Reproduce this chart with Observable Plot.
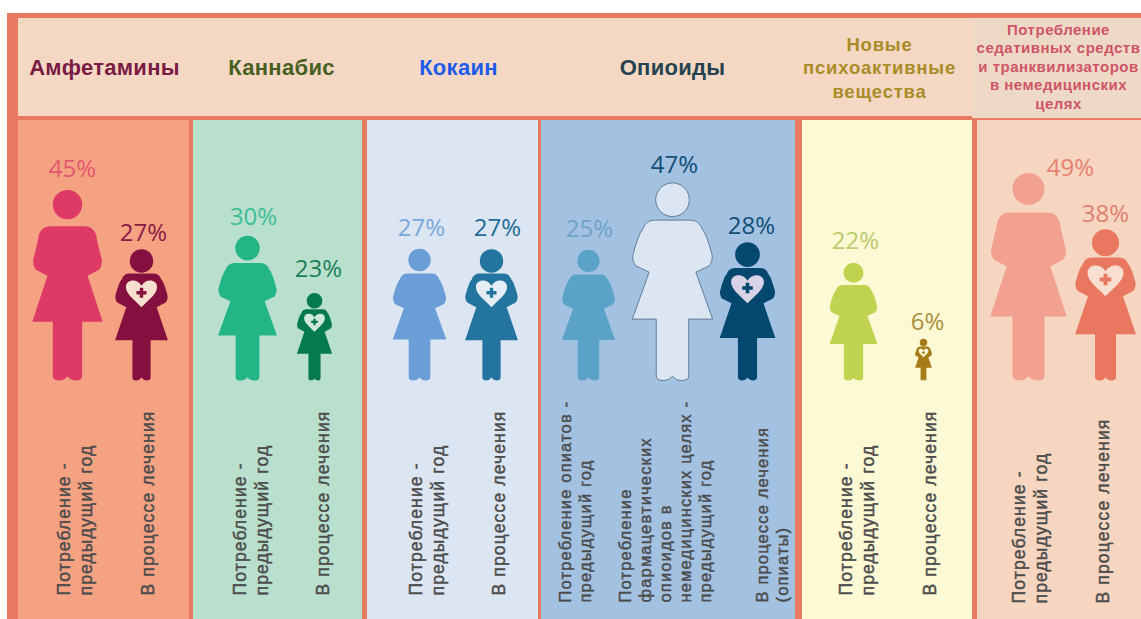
<!DOCTYPE html>
<html lang="ru">
<head>
<meta charset="utf-8">
<style>
html,body{margin:0;padding:0;background:#fff;overflow:hidden}
svg{display:block}
svg text[transform*="rotate"]{letter-spacing:1.15px}
svg g[font-size="22"] text{letter-spacing:.3px}
svg g[font-size="18.5"] text{letter-spacing:.8px}
svg g[font-size="15"] text{letter-spacing:.5px}
</style>
<script src="https://cdn.jsdelivr.net/npm/d3@7"></script>
<script src="https://cdn.jsdelivr.net/npm/@observablehq/plot@0.6"></script>
</head>
<body>
<div id="chart"></div>
<script>
// ---------- data ----------
const substances = ["Амфетамины","Каннабис","Кокаин","Опиоиды","Новые\nпсихоактивные\nвещества","Потребление\nседативных средств\nи транквилизаторов\nв немедицинских\nцелях"];
const figureSubstance = [0,0,1,1,2,2,3,3,3,4,4,5,5];
const percentValues = [45,27,30,23,27,27,25,47,28,22,6,49,38];
const inTreatment = [false,true,false,true,false,true,false,false,true,false,true,false,true];
const useLabel = "Потребление -\nпредыдущий год";
const treatLabel = "В процессе лечения";
const axisLabels = [useLabel,treatLabel,useLabel,treatLabel,useLabel,treatLabel,
  "Потребление опиатов -\nпредыдущий год",
  "Потребление\nфармацевтических\nопиоидов в\nнемедицинских целях -\nпредыдущий год",
  "В процессе лечения\n(опиаты)",
  useLabel,treatLabel,useLabel,treatLabel];

// ---------- layout and styling ----------
const W = 1141, H = 619;
const frameColor = "#e97a62";
const panelX = [[18,189],[193,362],[367,538],[541,795],[802,972],[977,1141]];
const panelFill = ["#f5a283","#b9e0cd","#dce6f3","#a3c1e0","#fdf9d5","#f6d6c1"];
const headX = [104,281,458,672,879,1058];
const headY = [66,66,66,66,66,65.5];
const headColor = ["#7a1a45","#46601f","#1f5bea","#24424f","#a98c28","#cf5467"];
const headSize = [22,22,22,22,18.5,15];
const headLine = [1.2,1.2,1.2,1.2,1.27,1.23];
const figX = [67,141,247,314,419,491,588,672,747,853,923,1028,1105];
const figH = [191,132,145,88,132,132,131,198,139,118,42,208,152];
const slimFigure = [true,false,false,false,false,false,false,false,false,false,false,true,false];
const bodyFill = ["#dd3a66","#85103f","#23b585","#067a4f","#6b9dd6","#23749f","#5ba2c9","#dce6f3","#04476f","#bfd350","#a67c18","#f2a090","#ea7760"];
const heartFill = ["","#f8dfce","","#cfe8d8","","#e5eef6","","","#d9d3e8","","#fff7d8","","#f9dfd0"];
const pctX = [72,143,253,318,421,497,589,674,751,855,927,1070,1105];
const pctY = [169,233,217,269,228,228,229,165,226,241,322,168,214];
const pctFill = ["#e2566f","#8a1b45","#3dbd95","#1c7f5b","#7aa7dc","#1e6b96","#6fa3c8","#114e77","#114e77","#bccb6c","#a98f3a","#e8806f","#e08070"];
const labelX = [73,146,249,321,425,497,574,664,771,855,928,1028,1101];
const labelY = [595,595,595,595,595,595,602,602,602,595,595,603,603];
const labelSize = [17.5,17.5,17.5,17.5,17.5,17.5,16.5,16.5,16.5,17.5,17.5,17.5,17.5];
const labelLine = [1.26,1.26,1.26,1.26,1.26,1.26,1.21,1.21,1.21,1.26,1.26,1.26,1.26];

// ---------- pictograms: unit shapes scaled by the r channel ----------
function pt(ctx, h){ return {
  M:(u,v)=>ctx.moveTo(u*h,-v*h), L:(u,v)=>ctx.lineTo(u*h,-v*h),
  Q:(a,b,u,v)=>ctx.quadraticCurveTo(a*h,-b*h,u*h,-v*h),
  C:(a,b,c,d,u,v)=>ctx.bezierCurveTo(a*h,-b*h,c*h,-d*h,u*h,-v*h)
};}
function person(o){ return { draw(ctx,size){
  const h = Math.sqrt(size/Math.PI), p = pt(ctx,h);
  const {leg,skirt,hem,waist,waistV,elbow,elbowV,top,headR,headV} = o;
  const cx = elbow-0.03, cv = elbowV+0.13;
  p.M(-leg,hem); p.L(-skirt,hem); p.L(-waist,waistV);
  p.L(-elbow+0.016,elbowV-0.03); p.Q(-elbow,elbowV-0.01,-elbow+0.002,elbowV+0.02);
  p.Q(-cx,cv,-0.15,top-0.045); p.Q(-0.135,top,-0.09,top); p.L(0.09,top); p.Q(0.135,top,0.15,top-0.045);
  p.Q(cx,cv,elbow-0.002,elbowV+0.02); p.Q(elbow,elbowV-0.01,elbow-0.016,elbowV-0.03);
  p.L(waist,waistV); p.L(skirt,hem); p.L(leg,hem);
  p.L(leg,0.025); p.Q(leg,0,leg*0.58,0); p.Q(leg*0.2,0,0,0.022); p.Q(-leg*0.2,0,-leg*0.58,0); p.Q(-leg,0,-leg,0.025);
  ctx.closePath();
  ctx.moveTo(headR*h,-headV*h); ctx.arc(0,-headV*h,headR*h,0,2*Math.PI); ctx.closePath();
}};}
const slimSymbol = person({leg:.077,skirt:.184,hem:.308,waist:.105,waistV:.548,elbow:.182,elbowV:.61,top:.808,headR:.077,headV:.921});
const broadSymbol = person({leg:.082,skirt:.203,hem:.31,waist:.118,waistV:.547,elbow:.203,elbowV:.61,top:.81,headR:.085,headV:.913});
const patientSymbol = person({leg:.069,skirt:.2,hem:.305,waist:.115,waistV:.555,elbow:.2,elbowV:.62,top:.81,headR:.089,headV:.906});
const heartSymbol = { draw(ctx,size){ const p = pt(ctx,Math.sqrt(size/Math.PI));
  p.M(0,.555); p.C(-.055,.612,-.118,.655,-.118,.708); p.C(-.118,.768,-.032,.775,0,.718);
  p.C(.032,.775,.118,.768,.118,.708); p.C(.118,.655,.055,.612,0,.555); ctx.closePath(); }};
const plusSymbol = { draw(ctx,size){ const p = pt(ctx,Math.sqrt(size/Math.PI));
  const a=.038,b=.013,c=.665;
  p.M(-b,c+a);p.L(b,c+a);p.L(b,c+b);p.L(a,c+b);p.L(a,c-b);p.L(b,c-b);p.L(b,c-a);p.L(-b,c-a);p.L(-b,c-b);p.L(-a,c-b);p.L(-a,c+b);p.L(-b,c+b);ctx.closePath(); }};

// ---------- tables ----------
const panels = panelX.map((x,i)=>({x1:x[0],x2:x[1],fill:panelFill[i]}));
const heads = substances.map((t,i)=>({t,x:headX[i],y:headY[i],fill:headColor[i],size:headSize[i],line:headLine[i]}));
const figures = percentValues.map((v,i)=>({
  v, pct:v+"%", panel:figureSubstance[i], treat:inTreatment[i], slim:slimFigure[i], x:figX[i], h:figH[i],
  body:bodyFill[i], heart:heartFill[i], px:pctX[i], py:pctY[i], pf:pctFill[i],
  label:axisLabels[i], lx:labelX[i], ly:labelY[i], ls:labelSize[i], ll:labelLine[i]
}));
const slim = figures.filter(d=>d.slim);
const broad = figures.filter(d=>!d.slim && !d.treat && d.v!==47);
const patients = figures.filter(d=>d.treat);
const outlined = figures.filter(d=>d.v===47);

const headMarks = d3.groups(heads,d=>d.size)
  .map(([s,g])=>Plot.text(g,{x:"x",y:"y",text:"t",fill:"fill",fontSize:s,fontWeight:700,
    fontFamily:"Liberation Sans",lineHeight:g[0].line,textAnchor:"middle",lineAnchor:"middle"}));
const labelMarks = d3.groups(figures,d=>d.ls).map(([s,g])=>Plot.text(g,{x:"lx",y:"ly",text:"label",rotate:-90,
    textAnchor:"start",lineAnchor:"middle",fontSize:s,lineHeight:g[0].ll,fill:"#4c4c4c",stroke:"#4c4c4c",strokeWidth:.45,
    fontFamily:"Liberation Sans"}));

const chart = Plot.plot({
  width:W,height:H,margin:0,
  style:{background:"#fff"},
  x:{domain:[0,W],range:[0,W],axis:null},
  y:{domain:[0,H],range:[0,H],axis:null},
  color:{type:"identity"},
  r:{type:"identity"},
  marks:[
    Plot.rect([{}],{x1:()=>7,x2:()=>W,y1:()=>13,y2:()=>H,fill:frameColor}),
    Plot.rect([{}],{x1:()=>18,x2:()=>972,y1:()=>18,y2:()=>116,fill:"#f5d8c3"}),
    Plot.rect([{}],{x1:()=>972,x2:()=>W,y1:()=>18,y2:()=>118,fill:"#eed9c6"}),
    Plot.rect(panels,{x1:"x1",x2:"x2",y1:()=>120,y2:()=>H,fill:"fill"}),
    ...headMarks,
    Plot.dot(slim,{x:"x",y:()=>380,r:"h",symbol:slimSymbol,fill:"body"}),
    Plot.dot(broad,{x:"x",y:()=>380,r:"h",symbol:broadSymbol,fill:"body"}),
    Plot.dot(outlined,{x:"x",y:()=>380,r:"h",symbol:broadSymbol,fill:"body",stroke:"#5f7d98",strokeWidth:1}),
    Plot.dot(patients,{x:"x",y:()=>380,r:"h",symbol:patientSymbol,fill:"body"}),
    Plot.dot(patients,{x:"x",y:()=>380,r:"h",symbol:heartSymbol,fill:"heart"}),
    Plot.dot(patients,{x:"x",y:()=>380,r:"h",symbol:plusSymbol,fill:"body"}),
    Plot.text(figures,{x:"px",y:"py",text:"pct",fill:"pf",fontSize:24,fontFamily:"Open Sans",textAnchor:"middle",lineAnchor:"middle"}),
    ...labelMarks
  ]
});
document.getElementById("chart").appendChild(chart);
</script>
</body>
</html>
